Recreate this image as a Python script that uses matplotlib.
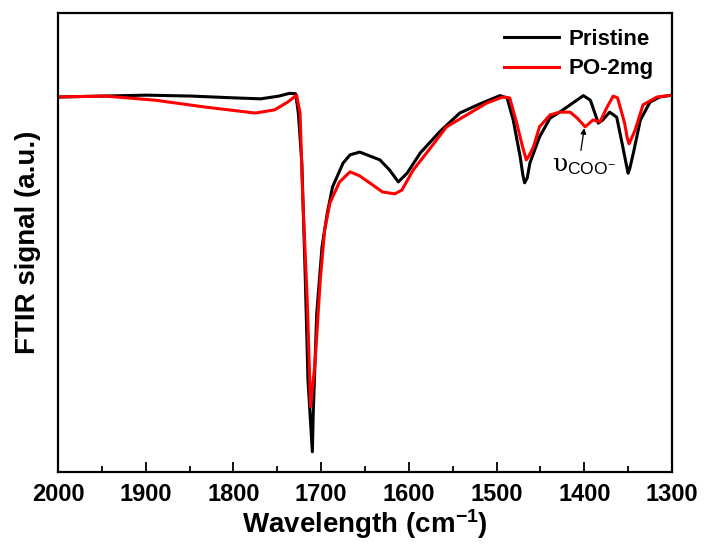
import numpy as np
import matplotlib
matplotlib.use("Agg")
import matplotlib.pyplot as plt
from matplotlib.ticker import MultipleLocator

plt.rcParams['font.family'] = ['Liberation Sans', 'DejaVu Sans']
plt.rcParams['font.weight'] = 'bold'
plt.rcParams['mathtext.fontset'] = 'custom'
plt.rcParams['mathtext.rm'] = 'Liberation Sans:weight=normal'
plt.rcParams['mathtext.it'] = 'DejaVu Serif:weight=normal'
plt.rcParams['mathtext.bf'] = 'Liberation Sans:bold'

# Pristine (black)
wn_pristine = [2000, 1899, 1848, 1798, 1769, 1748, 1736, 1729, 1726, 1722, 1718,
               1715, 1710, 1709, 1705, 1699, 1693, 1687, 1675, 1667, 1656, 1633,
               1622, 1612, 1602, 1587, 1565, 1542, 1519, 1496, 1488, 1481, 1473,
               1470, 1468, 1465, 1462, 1451, 1439, 1428, 1413, 1401, 1393, 1384,
               1379, 1371, 1363, 1356, 1352, 1350, 1348, 1344, 1336, 1325, 1314,
               1300]
sig_pristine = [0.817, 0.821, 0.819, 0.815, 0.813, 0.819, 0.825, 0.824, 0.782,
                0.673, 0.418, 0.200, 0.044, 0.129, 0.346, 0.490, 0.564, 0.621,
                0.673, 0.691, 0.697, 0.680, 0.658, 0.632, 0.651, 0.695, 0.741,
                0.782, 0.802, 0.820, 0.815, 0.767, 0.686, 0.647, 0.630, 0.641,
                0.673, 0.730, 0.771, 0.784, 0.804, 0.820, 0.810, 0.760, 0.767,
                0.784, 0.773, 0.708, 0.669, 0.651, 0.662, 0.695, 0.767, 0.806,
                0.817, 0.821]

# PO-2mg (red)
wn_po = [2000, 1946, 1889, 1832, 1775, 1753, 1738, 1728, 1724, 1721, 1716,
         1713, 1712, 1707, 1701, 1696, 1690, 1679, 1667, 1656, 1641, 1630,
         1616, 1608, 1595, 1579, 1557, 1534, 1511, 1493, 1485, 1477, 1470,
         1466, 1463, 1458, 1451, 1439, 1428, 1416, 1408, 1399, 1390, 1382,
         1374, 1367, 1362, 1354, 1351, 1349, 1347, 1342, 1333, 1317, 1300]
sig_po = [0.817, 0.819, 0.810, 0.795, 0.782, 0.789, 0.806, 0.821, 0.782, 0.599,
          0.381, 0.200, 0.142, 0.237, 0.418, 0.527, 0.586, 0.632, 0.654, 0.645,
          0.625, 0.610, 0.606, 0.614, 0.658, 0.697, 0.752, 0.778, 0.804, 0.817,
          0.815, 0.760, 0.706, 0.680, 0.689, 0.708, 0.752, 0.778, 0.784, 0.784,
          0.771, 0.752, 0.767, 0.763, 0.795, 0.819, 0.815, 0.760, 0.728, 0.715,
          0.723, 0.745, 0.800, 0.817, 0.821]

fig = plt.figure(figsize=(7.04, 5.44), dpi=100)
ax = fig.add_axes([0.0824, 0.1324, 0.8721, 0.8437])

ax.plot(wn_pristine, sig_pristine, color='black', lw=2.2, label='Pristine')
ax.plot(wn_po, sig_po, color='red', lw=2.2, label='PO-2mg')

ax.set_xlim(2000, 1300)
ax.set_ylim(0, 1)
ax.xaxis.set_major_locator(MultipleLocator(100))
ax.xaxis.set_minor_locator(MultipleLocator(50))
ax.set_yticks([])
ax.tick_params(axis='x', which='major', direction='in', length=7, width=1.3,
               labelsize=17, pad=8, top=False)
ax.tick_params(axis='x', which='minor', direction='in', length=4, width=1.3, top=False)
for lab in ax.get_xticklabels():
    lab.set_fontweight('bold')
for sp in ax.spines.values():
    sp.set_linewidth(1.6)

ax.set_xlabel('Wavelength (cm$^{\\mathbf{-1}}$)', fontsize=20, fontweight='bold', labelpad=1)
ax.set_ylabel('FTIR signal (a.u.)', fontsize=20, fontweight='bold', labelpad=12)

ax.annotate('$\\upsilon_{\\mathrm{COO}^{-}}$', xy=(1400, 0.749), xytext=(1437, 0.655),
            fontsize=18, fontweight='normal',
            arrowprops=dict(arrowstyle='-|>', color='black', lw=0.9, mutation_scale=8,
                            shrinkA=0, shrinkB=0, relpos=(0.45, 1.0)))

ax.legend(loc='upper right', frameon=False, fontsize=16, handlelength=2.5,
          handletextpad=0.4, labelspacing=0.4, borderaxespad=0.3,
          bbox_to_anchor=(0.995, 1.0))

fig.savefig('out.png', dpi=100)
